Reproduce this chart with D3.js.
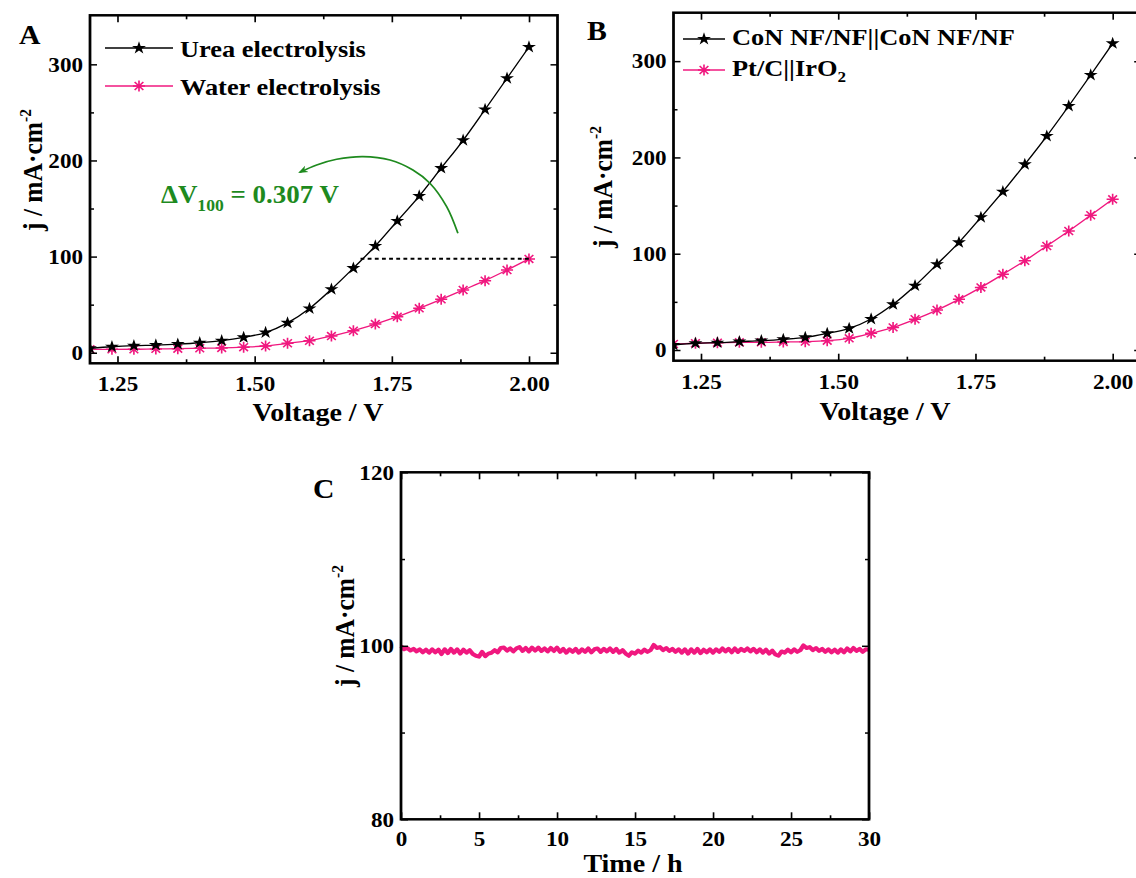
<!DOCTYPE html>
<html>
<head>
<meta charset="utf-8">
<script src="https://cdn.jsdelivr.net/npm/d3@7"></script>
<style>
  html, body { margin: 0; padding: 0; background: #fff; }
  svg { display: block; }
  text { font-family: "Liberation Serif", "Times New Roman", serif; font-weight: bold; fill: #000; }
</style>
</head>
<body>
<div id="chart"></div>
<script>
// LSV sweep, marker every 0.04 V
const voltage = [1.20, 1.24, 1.28, 1.32, 1.36, 1.40, 1.44, 1.48, 1.52, 1.56, 1.60,
                 1.64, 1.68, 1.72, 1.76, 1.80, 1.84, 1.88, 1.92, 1.96, 2.00];
// panel A
const ureaJ  = [4.6, 6.2, 7.3, 8.0, 9.0, 10.4, 12.5, 16, 21, 31, 46, 66, 88, 111, 137, 163, 192, 221, 253, 285.5, 318];
const waterJ = [3.5, 3.5, 3.6, 4.0, 4.2, 4.6, 5.0, 5.8, 7.0, 9.8, 12.5, 17.3, 22.9, 29.8, 37.5, 46.2, 55.5, 65.2, 75, 86, 97.6];
// panel B
const conJ = [5.2, 7.0, 7.6, 8.7, 9.7, 11.1, 13.1, 17.3, 22.5, 32.2, 47.4, 66.8, 89, 111.8, 137.8, 164.4, 192.8, 222.2, 253.4, 285.6, 318.4];
const ptcJ = [6.2, 7.0, 7.6, 8.0, 8.0, 8.3, 8.7, 9.7, 12.1, 17.3, 23.5, 31.9, 41.5, 52.6, 65, 78.6, 92.7, 108, 123.6, 140, 156.5];
// panel C, chronoamperometry read every 0.2 h
const stabJ = [
  99.95, 99.6, 99.75, 99.45, 99.65, 99.35,
  99.6, 99.25, 99.55, 99.2, 99.6, 99.25, 99.55,
  99.05, 99.6, 99.15, 99.65, 99.2, 99.6, 99.1, 99.55, 99.2, 99.5,
  99.05, 98.85, 98.75, 99.3, 98.8, 99.1,
  99.2, 99.5, 99.25, 99.75, 99.8, 99.45, 99.7,
  99.35, 99.7, 99.85, 99.4, 99.75, 99.35, 99.8, 99.45, 99.8, 99.4,
  99.7, 99.35, 99.75, 99.4, 99.8, 99.3, 99.65, 99.2, 99.6, 99.3,
  99.65, 99.2, 99.6, 99.3, 99.7, 99.25, 99.6, 99.7, 99.3, 99.65,
  99.35, 99.7, 99.3, 99.65, 99.2, 99.5, 99.1, 98.85, 99.25, 99.1,
  99.45, 99.2, 99.55, 99.3, 99.5, 100.1,
  99.75, 99.85, 99.5, 99.75, 99.4, 99.65, 99.3, 99.6, 99.2,
  99.6, 99.1, 99.6, 99.2, 99.65, 99.15, 99.55, 99.25, 99.6, 99.2,
  99.6, 99.3, 99.7, 99.35, 99.65, 99.25, 99.7, 99.3, 99.65, 99.4,
  99.7, 99.35, 99.65, 99.25, 99.6, 99.2, 99.55, 99.1, 99.45, 99.0,
  98.85, 99.35, 99.2, 99.55, 99.25, 99.6, 99.3, 99.5, 100.05, 99.75,
  99.85, 99.5, 99.75, 99.4, 99.65, 99.3, 99.6, 99.25, 99.55, 99.2,
  99.6, 99.25, 99.7, 99.35, 99.75, 99.4, 99.65, 99.3, 99.6, 99.55
];
const stabHours = stabJ.map((d, i) => i * 0.2);

const voltTicks = [1.25, 1.50, 1.75, 2.00];
const voltMinor = [1.375, 1.625, 1.875];
const jTicks = [0, 100, 200, 300];
const jMinor = [50, 150, 250];
const hourTicks = [0, 5, 10, 15, 20, 25, 30];
const hourMinor = [2.5, 7.5, 12.5, 17.5, 22.5, 27.5];
const stabTicks = [80, 100, 120];
const stabMinor = [90, 110];

// dV100 arrow path (data units of panel A)
const arrowPts = [[1.8705, 124.2], [1.850, 151.9], [1.8195, 176.3], [1.7885, 190.1], [1.7467, 200.5],
                  [1.6975, 204], [1.6495, 201.2], [1.6131, 195.3], [1.5825, 187.7]];

const pink = "#f0187f";
const green = "#1e8a1e";

const K = 1.1;               // the figure is a bit stretched sideways
const W = 1136, H = 878;
const X = px => px / K;

const svg = d3.select('#chart').append('svg')
    .attr('width', W).attr('height', H)
    .attr('viewBox', `0 0 ${W / K} ${H}`)
    .attr('preserveAspectRatio', 'none');

const defs = svg.append('defs');
defs.append('marker').attr('id', 'arrowhead')
    .attr('viewBox', '0 0 10 10').attr('refX', 8).attr('refY', 5)
    .attr('markerWidth', 9).attr('markerHeight', 9).attr('markerUnits', 'userSpaceOnUse')
    .attr('orient', 'auto')
  .append('path').attr('d', 'M0,1 L10,5 L0,9 L3,5 Z').attr('fill', green);

function axes(g, x, y, o) {
  const [l, r] = x.range(), [b, t] = y.range();
  const add = (axis, tr) => g.append('g').attr('class', 'ax').attr('transform', tr).call(axis);
  add(d3.axisBottom(x).tickValues(o.xMajor).tickSize(-7).tickSizeOuter(0).tickPadding(o.xPad).tickFormat(o.xFmt), `translate(0,${b})`);
  add(d3.axisBottom(x).tickValues(o.xMinor).tickSize(-4).tickSizeOuter(0).tickFormat(''), `translate(0,${b})`);
  add(d3.axisTop(x).tickValues(o.xMajor).tickSize(-7).tickSizeOuter(0).tickFormat(''), `translate(0,${t})`);
  add(d3.axisTop(x).tickValues(o.xMinor).tickSize(-4).tickSizeOuter(0).tickFormat(''), `translate(0,${t})`);
  add(d3.axisLeft(y).tickValues(o.yMajor).tickSize(-7 / K).tickSizeOuter(0).tickPadding(7 / K).tickFormat(o.yFmt), `translate(${l},0)`);
  add(d3.axisLeft(y).tickValues(o.yMinor).tickSize(-4 / K).tickSizeOuter(0).tickFormat(''), `translate(${l},0)`);
  add(d3.axisRight(y).tickValues(o.yMajor).tickSize(-7 / K).tickSizeOuter(0).tickFormat(''), `translate(${r},0)`);
  add(d3.axisRight(y).tickValues(o.yMinor).tickSize(-4 / K).tickSizeOuter(0).tickFormat(''), `translate(${r},0)`);
  g.selectAll('.ax .domain').remove();
  g.selectAll('.ax line').attr('stroke', '#000').attr('stroke-width', 1.5);
  g.selectAll('.ax text').attr('font-size', 21).attr('fill', '#000');
  g.append('rect').attr('x', l).attr('y', t).attr('width', r - l).attr('height', b - t)
    .attr('fill', 'none').attr('stroke', '#000').attr('stroke-width', 2.5);
}

function yTitle(g, px, py) {
  const t = g.append('text').attr('transform', `translate(${X(px)},${py}) rotate(-90)`)
      .attr('text-anchor', 'middle').attr('font-size', 25.5);
  t.append('tspan').text('j / mA·cm');
  t.append('tspan').attr('dy', -10).attr('font-size', 15.5).text('-2');
}

function asterisk(sel, r) {
  const d = `M0,${-r}V${r}M${-r},0H${r}M${-r * 0.72},${-r * 0.72}L${r * 0.72},${r * 0.72}M${-r * 0.72},${r * 0.72}L${r * 0.72},${-r * 0.72}`;
  sel.append('path').attr('d', d).attr('stroke', pink).attr('stroke-width', 1.5).attr('fill', 'none');
}

const star = d3.symbol(d3.symbolStar, 50);

function series(g, x, y, vals, color, kind, clipId) {
  const pts = voltage.map((v, i) => [v, vals[i]]);
  const sg = g.append('g').attr('clip-path', `url(#${clipId})`);
  sg.append('path').datum(pts)
    .attr('d', d3.line().x(d => x(d[0])).y(d => y(d[1])).curve(d3.curveMonotoneX))
    .attr('fill', 'none').attr('stroke', color).attr('stroke-width', 1.3);
  const m = sg.selectAll('.m').data(pts).enter().append('g')
    .attr('transform', d => `translate(${x(d[0])},${y(d[1])})`);
  if (kind === 'star') m.append('path').attr('d', star).attr('fill', '#000');
  else asterisk(m, 5.5);
}

function clip(id, x, y) {
  const [l, r] = x.range(), [b, t] = y.range();
  defs.append('clipPath').attr('id', id).append('rect').attr('x', l).attr('y', t).attr('width', r - l).attr('height', b - t);
}

function legendRow(g, x0, x1, yy, kind, color) {
  g.append('line').attr('x1', X(x0)).attr('x2', X(x1)).attr('y1', yy).attr('y2', yy)
    .attr('stroke', color).attr('stroke-width', 1.3);
  const m = g.append('g').attr('transform', `translate(${X((x0 + x1) / 2)},${yy})`);
  if (kind === 'star') m.append('path').attr('d', star).attr('fill', '#000');
  else asterisk(m, 5.5);
}

const fmtV = d3.format('.2f'), fmtI = d3.format('d');

// ---------- Panel A ----------
const gA = svg.append('g');
const xA = d3.scaleLinear().domain([1.2, 2.052]).range([X(90), X(557.5)]);
const yA = d3.scaleLinear().domain([-11, 351]).range([363.3, 15.3]);
clip('clipA', xA, yA);
series(gA, xA, yA, waterJ, pink, 'ast', 'clipA');
series(gA, xA, yA, ureaJ, '#000', 'star', 'clipA');
gA.append('line')
  .attr('x1', xA(2.0 - 0.307)).attr('x2', xA(2.0)).attr('y1', yA(97.8)).attr('y2', yA(97.8))
  .attr('stroke', '#000').attr('stroke-width', 2).attr('stroke-dasharray', '3.5,3');
gA.append('path').datum(arrowPts)
  .attr('d', d3.line().x(d => xA(d[0])).y(d => yA(d[1])).curve(d3.curveCatmullRom))
  .attr('fill', 'none').attr('stroke', green).attr('stroke-width', 1.6)
  .attr('marker-end', 'url(#arrowhead)');
const dv = gA.append('text').attr('x', X(161)).attr('y', 203).attr('font-size', 24.5).style('fill', green);
dv.append('tspan').style('fill', green).text('ΔV');
dv.append('tspan').style('fill', green).attr('dy', 8).attr('font-size', 16).text('100');
dv.append('tspan').style('fill', green).attr('dy', -8).text(' = 0.307 V');
axes(gA, xA, yA, { xMajor: voltTicks, xMinor: voltMinor, yMajor: jTicks, yMinor: jMinor, xFmt: fmtV, yFmt: fmtI, xPad: 13 });
legendRow(gA, 105, 173, 48, 'star', '#000');
legendRow(gA, 105, 173, 86, 'ast', pink);
gA.append('text').attr('x', X(180)).attr('y', 57).attr('font-size', 24).text('Urea electrolysis');
gA.append('text').attr('x', X(180)).attr('y', 95).attr('font-size', 24).text('Water electrolysis');
gA.append('text').attr('x', X(318)).attr('y', 421).attr('text-anchor', 'middle').attr('font-size', 25.5).text('Voltage / V');
yTitle(gA, 42, 170);
gA.append('text').attr('x', X(19)).attr('y', 44).attr('font-size', 27).text('A');

// ---------- Panel B ----------
const gB = svg.append('g');
const xB = d3.scaleLinear().domain([1.2, 2.052]).range([X(673.5), X(1141.2)]);
const yB = d3.scaleLinear().domain([-11.1, 350.3]).range([360.7, 12.7]);
clip('clipB', xB, yB);
series(gB, xB, yB, ptcJ, pink, 'ast', 'clipB');
series(gB, xB, yB, conJ, '#000', 'star', 'clipB');
axes(gB, xB, yB, { xMajor: voltTicks, xMinor: voltMinor, yMajor: jTicks, yMinor: jMinor, xFmt: fmtV, yFmt: fmtI, xPad: 13 });
legendRow(gB, 683, 725, 39, 'star', '#000');
legendRow(gB, 683, 725, 70, 'ast', pink);
gB.append('text').attr('x', X(732)).attr('y', 45.5).attr('font-size', 24).text('CoN NF/NF||CoN NF/NF');
const lb = gB.append('text').attr('x', X(732)).attr('y', 76).attr('font-size', 24);
lb.append('tspan').text('Pt/C||IrO');
lb.append('tspan').attr('dy', 6).attr('font-size', 15.5).text('2');
gB.append('text').attr('x', X(885)).attr('y', 420).attr('text-anchor', 'middle').attr('font-size', 25.5).text('Voltage / V');
yTitle(gB, 612, 187);
gB.append('text').attr('x', X(587)).attr('y', 40).attr('font-size', 27).text('B');

// ---------- Panel C ----------
const gC = svg.append('g');
const xC = d3.scaleLinear().domain([0, 30]).range([X(401), X(869)]);
const yC = d3.scaleLinear().domain([80, 120]).range([819.3, 472.3]);
gC.append('path').datum(stabJ.map((v, i) => [stabHours[i], v]))
  .attr('d', d3.line().x(d => xC(d[0])).y(d => yC(d[1])))
  .attr('fill', 'none').attr('stroke', pink).attr('stroke-width', 4).attr('stroke-linejoin', 'round');
axes(gC, xC, yC, { xMajor: hourTicks, xMinor: hourMinor, yMajor: stabTicks, yMinor: stabMinor, xFmt: fmtI, yFmt: fmtI, xPad: 12 });
gC.append('text').attr('x', X(633)).attr('y', 872).attr('text-anchor', 'middle').attr('font-size', 25.5).text('Time / h');
yTitle(gC, 354, 626);
gC.append('text').attr('x', X(313)).attr('y', 498).attr('font-size', 27).text('C');
</script>
</body>
</html>
